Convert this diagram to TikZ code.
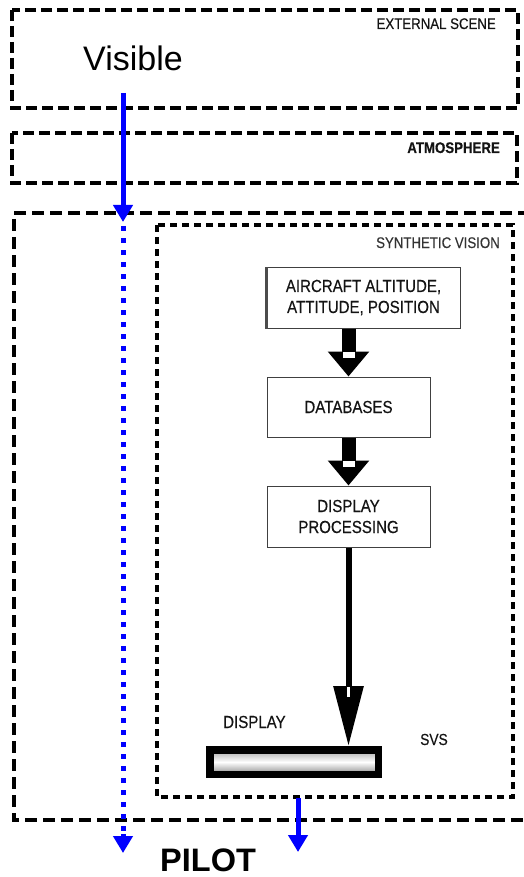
\documentclass[tikz,border=0pt]{standalone}
\usepackage{fontspec}
\setmainfont{Liberation Sans}
\newfontfamily\narrowf[FakeStretch=0.86,FakeBold=0.4]{Liberation Sans}
\usetikzlibrary{arrows.meta,calc}
\begin{document}
\begin{tikzpicture}[x=1pt,y=-1pt,
 zone/.style={line width=3.1pt, dash pattern=on 11pt off 5pt},
 outerzone/.style={line width=3.1pt, dash pattern=on 12pt off 6pt},
 svzone/.style={line width=3.1pt, dash pattern=on 7pt off 5pt},
 procbox/.style={draw=black!75, line width=1pt, fill=white, inner sep=0pt, align=center,
   font=\narrowf\fontsize{17.5}{21}\selectfont, text=black!92},
 zonelabel/.style={font=\narrowf\fontsize{15.4}{18}\selectfont, text=black!92, inner sep=0pt},
 plainlabel/.style={font=\narrowf\fontsize{17.5}{21}\selectfont, text=black!92, inner sep=0pt},
 bigarrow/.style={line width=14pt, -{Triangle[width=40pt,length=25pt]}},
 longarrow/.style={line width=6pt, -{Triangle[width=29pt,length=60pt]}},
 bluearrow/.style={blue, line width=5pt, -{Triangle[width=19pt,length=17pt]}},
 notch/.style={fill=white},
]
\useasboundingbox (0,0) rectangle (523,877);

% zones
\draw[zone] (12,10) rectangle (518,108);
\draw[zone] (12,133) rectangle (517,183);
\draw[outerzone] (530,213) -- (14,213) -- (14,820) -- (530,820);
\draw[svzone] (157,225) rectangle (513,797);

\node[zonelabel, anchor=base east] (ext) at (496,29) {EXTERNAL SCENE};
\node[zonelabel, anchor=base east, font=\narrowf\bfseries\fontsize{15.4}{18}\selectfont] (atm) at (500,153) {ATMOSPHERE};
\node[zonelabel, anchor=base east, text=black!80] (svl) at (500,248) {SYNTHETIC VISION};

\node[anchor=base west, inner sep=0pt, font=\fontsize{34}{40}\selectfont] (vis) at (83,71) {Visible};
\node[anchor=base west, inner sep=0pt, font=\bfseries\fontsize{32.5}{40}\selectfont] (pilot) at (160,871) {PILOT};

% processing boxes
\node[procbox, minimum width=193pt, minimum height=61pt] (air) at (363.5,297.5)
  {AIRCRAFT ALTITUDE,\\ATTITUDE, POSITION};
\draw[black!70, line width=2.4pt] (air.south west) -- (air.north west);
\node[procbox, minimum width=163pt, minimum height=60pt] (db) at (348.5,407) {DATABASES};
\node[procbox, minimum width=163pt, minimum height=61pt] (dp) at (348.5,516.5)
  {DISPLAY\\PROCESSING};

% display bar
\node[draw=black, line width=7.5pt, minimum width=168.5pt, minimum height=24.5pt, inner sep=0pt,
  top color=black!35, bottom color=black!45, middle color=white] (bar) at (294,762) {};
\node[plainlabel, anchor=base west] (displ) at (223,728) {DISPLAY};
\node[zonelabel, anchor=base west, font=\narrowf\fontsize{16}{18}\selectfont] (svs) at (420,745) {SVS};

% black arrows
\draw[bigarrow] (db.north |- air.south) -- (db.north);
\fill[notch] ($(db.north)+(-6,-25)$) rectangle ($(db.north)+(6,-19)$);
\draw[bigarrow] (dp.north |- db.south) -- (dp.north);
\fill[notch] ($(dp.north)+(-6,-25)$) rectangle ($(dp.north)+(6,-19)$);
\coordinate (bartop) at (dp.south |- bar.north);
\draw[longarrow] (dp.south) -- (bartop);
\fill[notch] ($(bartop)+(-1.5,-59)$) rectangle ($(bartop)+(1.5,-49)$);

% blue arrows
\coordinate (vstart) at (123,93);
\coordinate (vhit) at (123,222);
\coordinate (dotend) at (123,836);
\coordinate (vend) at (123,853);
\draw[bluearrow] (vstart) -- (vhit);
\draw[blue, line width=5pt, dash pattern=on 5pt off 7pt] (123,226) -- (dotend);
\draw[bluearrow] ($(dotend)+(0,-2)$) -- (vend);
\coordinate (svsout) at (298,798);
\coordinate (svsend) at (298,852);
\draw[bluearrow] (svsout) -- (svsend);
\end{tikzpicture}
\end{document}
